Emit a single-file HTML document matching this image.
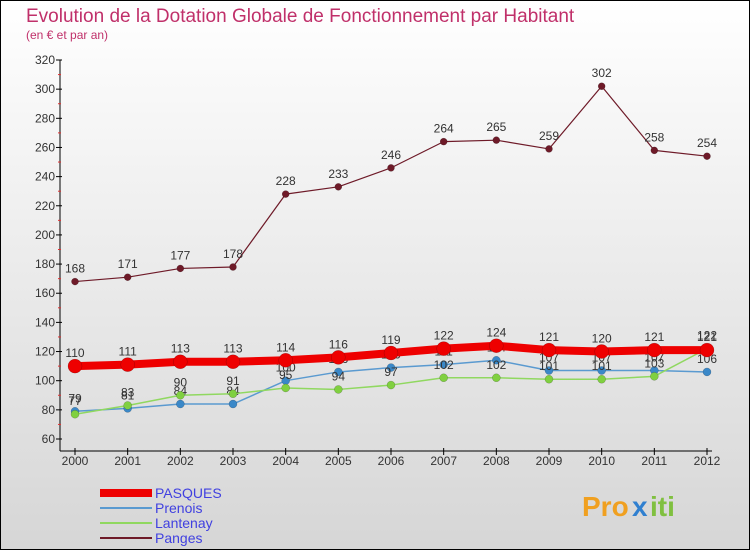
<!DOCTYPE html>
<html><head><meta charset="utf-8"><style>
body{margin:0;}
svg{display:block;font-family:"Liberation Sans",sans-serif;}
</style></head><body>
<svg width="750" height="550" viewBox="0 0 750 550">
<defs><linearGradient id="bg" x1="0" y1="0" x2="0" y2="1"><stop offset="0" stop-color="#ffffff"/><stop offset="1" stop-color="#d6d6d6"/></linearGradient></defs>
<rect x="0.5" y="0.5" width="749" height="549" fill="url(#bg)" stroke="#000"/>
<text x="26" y="22" font-size="19" fill="#c0306a">Evolution de la Dotation Globale de Fonctionnement par Habitant</text>
<text x="26" y="39" font-size="12" fill="#c0306a">(en € et par an)</text>
<g id="axes"></g>
<g id="series"></g>
<g id="legend"></g>
<g font-size="28" font-weight="bold">
<text x="582" y="516" fill="#f0a020">Pro</text><text x="632" y="516" fill="#3080d0">x</text><text x="650" y="516" fill="#80c040">iti</text>
</g>
</svg>
<script>
const years=["2000","2001","2002","2003","2004","2005","2006","2007","2008","2009","2010","2011","2012"];
const yTicks=[60,80,100,120,140,160,180,200,220,240,260,280,300,320];
const pasques=[110,111,113,113,114,116,119,122,124,121,120,121,121];
const prenois=[79,81,84,84,100,106,109,111,114,107,107,107,106];
const lantenay=[77,83,90,91,95,94,97,102,102,101,101,103,122];
const panges=[168,171,177,178,228,233,246,264,265,259,302,258,254];
const NS="http://www.w3.org/2000/svg";
const X=i=>75+i*(707-75)/(years.length-1);
const Y=v=>439-(v-60)*(439-60)/(320-60);
function mk(tag,attrs,parent){const e=document.createElementNS(NS,tag);for(const k in attrs)e.setAttribute(k,attrs[k]);parent.appendChild(e);return e;}
const ax=document.getElementById('axes');
let l=mk('line',{x1:60,y1:Y(320),x2:60,y2:451,stroke:'#000'},ax);


l=mk('line',{x1:60,y1:451,x2:712,y2:451,stroke:'#000'},ax);


yTicks.forEach(v=>{
 mk('line',{x1:56,y1:Y(v),x2:62,y2:Y(v),stroke:'#000'},ax);
 if(v<320) mk('line',{x1:58,y1:Y(v+10),x2:61,y2:Y(v+10),stroke:'#e03030'},ax);
 const t=mk('text',{x:55,y:Y(v)+4,'font-size':12,'text-anchor':'end',fill:'#333'},ax);t.textContent=v;
 
 
});
years.forEach((y,i)=>{
 mk('line',{x1:X(i),y1:448,x2:X(i),y2:455,stroke:'#000'},ax);
 const t=mk('text',{x:X(i),y:465,'font-size':12,'text-anchor':'middle',fill:'#333'},ax);t.textContent=y;
 
 
});
const sg=document.getElementById('series');
function series(name,data,color,w,r,dot){
 const g=mk('g',{},sg);
 
 
 mk('polyline',{points:data.map((v,i)=>X(i)+','+Y(v)).join(' '),fill:'none',stroke:color,'stroke-width':w,'stroke-linejoin':'round'},g);
 data.forEach((v,i)=>{
  const c=mk('circle',{cx:X(i),cy:Y(v),r:r,fill:dot,stroke:'rgba(0,0,0,0.3)','stroke-width':0.5},g);
  
  
  const t=mk('text',{x:X(i),y:Y(v)-9,'font-size':12,'text-anchor':'middle',fill:'#333'},g);t.textContent=v;
 });
}
series('panges',panges,'#6e1a28',1.2,3.5,'#6e1a28');
series('prenois',prenois,'#5a9ad0',1.5,4,'#3a88c8');
series('lantenay',lantenay,'#90d860',1.5,4,'#80d040');
series('pasques',pasques,'#ee0000',8,7,'#ee0000');
const lg=document.getElementById('legend');
[['PASQUES','#ee0000',8],['Prenois','#5a9ad0',2],['Lantenay','#90d860',2],['Panges','#6e1a28',2]].forEach((d,i)=>{
 const y=493+i*15;
 const g=mk('g',{},lg);
 
 
 mk('line',{x1:100,y1:y,x2:152,y2:y,stroke:d[1],'stroke-width':d[2]},g);
 const t=mk('text',{x:155,y:y+5,'font-size':14,fill:'#4040e0'},g);t.textContent=d[0];
});
</script>
</body></html>
